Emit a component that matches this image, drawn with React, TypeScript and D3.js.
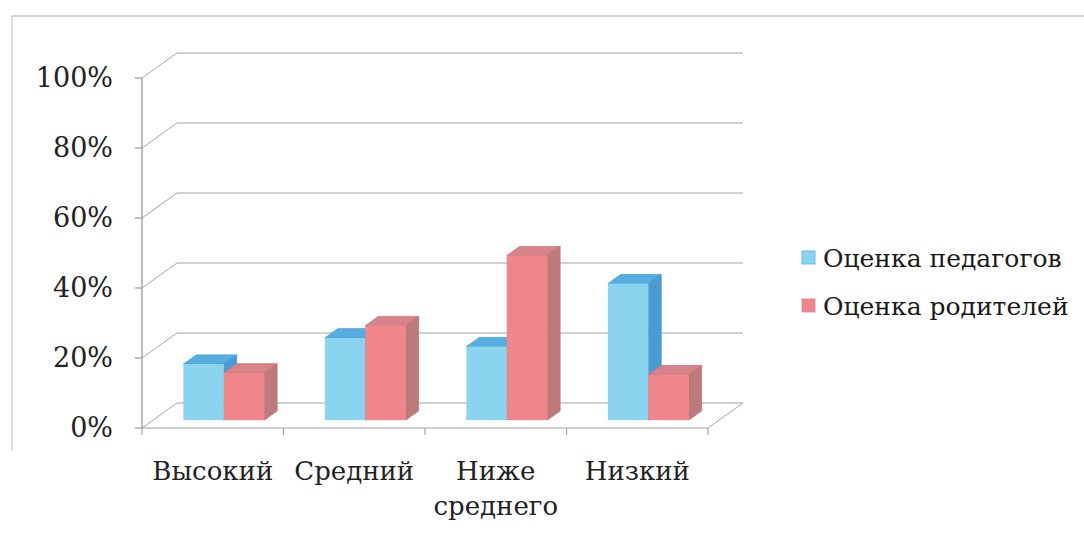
import React from 'react';
import * as d3 from 'd3';

const categories = ['Высокий', 'Средний', 'Ниже среднего', 'Низкий'];
const categoryLines = [['Высокий'], ['Средний'], ['Ниже', 'среднего'], ['Низкий']];
const seriesNames = ['Оценка педагогов', 'Оценка родителей'];
const teachers = [16, 23.5, 21, 39];
const parents = [13.5, 27, 47, 13];
const yTicks = [0, 20, 40, 60, 80, 100];

const W = 1084;
const H = 537;
const DX = 35;
const DY = -25;
const F0 = 0.315;
const F1 = 0.685;
const FONT = '"DejaVu Serif", serif';

const colors = [
  { front: '#8ad4f0', top: '#55ade0', side: '#4a9bd2' },
  { front: '#f0868b', top: '#d8838a', side: '#bd7a7a' },
];

export default function App() {
  const x0 = d3.scaleBand<string>().domain(categories).range([142, 708]).paddingInner(0).paddingOuter(0);
  const x1 = d3.scaleBand<string>().domain(seriesNames).range([0, x0.bandwidth()]).paddingInner(0).paddingOuter(0.75);
  const y = d3.scaleLinear().domain([0, 100]).range([428, 78]);
  const P = (x: number, v: number, f: number) => [x + f * DX, y(v) + f * DY];
  const pts = (arr: number[][]) => arr.map(p => p.join(',')).join(' ');

  const left = x0.range()[0];
  const right = x0.range()[1];
  const data = [teachers, parents];

  return (
    <div style={{ position: 'fixed', left: 0, top: 0 }}>
      <svg width={W} height={H} style={{ display: 'block', background: '#fff', fontFamily: FONT }}>
        {/* chart frame */}
        <line x1={12} y1={16} x2={W} y2={16} stroke="#d4d4d4" strokeWidth={2} />
        <line x1={12} y1={16} x2={12} y2={450} stroke="#cfcfcf" strokeWidth={1.5} />

        {/* back wall gridlines and side diagonals */}
        {yTicks.map(t => {
          const a = P(left, t, 0);
          const b = P(left, t, 1);
          const c = P(right, t, 1);
          return (
            <g key={t}>
              <line x1={b[0]} y1={b[1]} x2={c[0]} y2={c[1]} stroke="#a3a3a3" strokeWidth={1.2} />
              <line x1={a[0]} y1={a[1]} x2={b[0]} y2={b[1]} stroke="#a8a8a8" strokeWidth={1} />
            </g>
          );
        })}
        {/* floor */}
        {(() => {
          const a = P(left, 0, 0);
          const b = P(right, 0, 0);
          const c = P(right, 0, 1);
          return (
            <g>
              <line x1={a[0]} y1={a[1]} x2={b[0]} y2={b[1]} stroke="#9aa3ab" strokeWidth={1.2} />
              <line x1={b[0]} y1={b[1]} x2={c[0]} y2={c[1]} stroke="#a8a8a8" strokeWidth={1} />
            </g>
          );
        })()}
        {/* category ticks */}
        {[...categories.map(c => x0(c) as number), right].map((xv, i) => (
          <line key={i} x1={xv} y1={y(0)} x2={xv} y2={y(0) + 7} stroke="#9aa3ab" strokeWidth={1.2} />
        ))}
        {/* value axis */}
        <line x1={left} y1={y(0)} x2={left} y2={y(100)} stroke="#8e9ca8" strokeWidth={1.3} />
        {yTicks.map(t => (
          <g key={t}>
            <line x1={left - 7} y1={y(t)} x2={left} y2={y(t)} stroke="#8e9ca8" strokeWidth={1.2} />
            <text x={113} y={y(t)} dy="0.35em" textAnchor="end" fontSize={27} fill="#222">
              {t}%
            </text>
          </g>
        ))}

        {/* bars */}
        {categories.map((c, ci) => (
          <g key={c}>
            {seriesNames.map((s, si) => {
              const v = data[si][ci];
              const xa = (x0(c) as number) + (x1(s) as number);
              const xb = xa + x1.bandwidth();
              const col = colors[si];
              const fbl = P(xa, 0, F0);
              const ftr = P(xb, v, F0);
              const ftl = P(xa, v, F0);
              const fbr = P(xb, 0, F0);
              const btl = P(xa, v, F1);
              const btr = P(xb, v, F1);
              const bbr = P(xb, 0, F1);
              return (
                <g key={s}>
                  <polygon points={pts([ftl, ftr, btr, btl])} fill={col.top} stroke={col.side} strokeWidth={0.8} />
                  <polygon points={pts([fbr, ftr, btr, bbr])} fill={col.side} stroke={col.side} strokeWidth={0.8} />
                  <rect x={fbl[0]} y={ftl[1]} width={xb - xa} height={fbl[1] - ftl[1]} fill={col.front} />
                </g>
              );
            })}
          </g>
        ))}

        {/* category labels */}
        {categoryLines.map((lines, i) => (
          <text key={i} x={(x0(categories[i]) as number) + x0.bandwidth() / 2} y={480} textAnchor="middle"
            fontSize={26} fill="#222">
            {lines.map((l, li) => (
              <tspan key={li} x={(x0(categories[i]) as number) + x0.bandwidth() / 2} dy={li === 0 ? 0 : 35}>{l}</tspan>
            ))}
          </text>
        ))}

        {/* legend */}
        {seriesNames.map((s, i) => (
          <g key={s} transform={`translate(802, ${251 + i * 48})`}>
            <rect x={0} y={0} width={13} height={13} fill={colors[i].front} stroke={colors[i].top} strokeWidth={0.8} />
            <text x={21} y={7} dy="0.35em" fontSize={25} fill="#1a1a1a">{s}</text>
          </g>
        ))}
      </svg>
    </div>
  );
}
